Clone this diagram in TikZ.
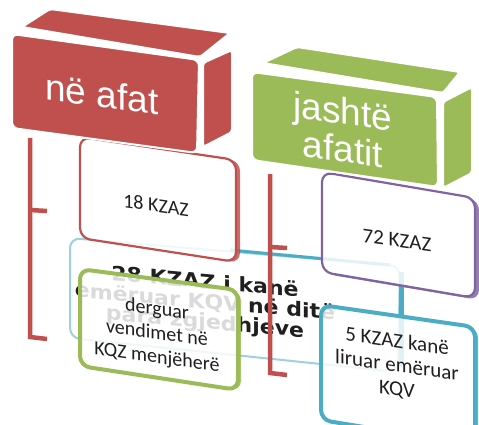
\documentclass[tikz,border=0pt]{standalone}
\usepackage{fontspec}
\setmainfont{Carlito}
\newfontfamily\hdrfont{Liberation Sans}
\newfontfamily\boldfont{DejaVu Sans}
\definecolor{cred}{HTML}{C0504D}
\definecolor{cgreen}{HTML}{9BBB59}
\definecolor{cpurple}{HTML}{8064A2}
\definecolor{ccyan}{HTML}{4BACC6}
\definecolor{ctext}{HTML}{1F1F1F}
\begin{document}
\begin{tikzpicture}[x=1pt,y=-1pt,
  face/.style={draw=white, line width=2pt, line join=round},
  hdrtext/.style={text=white, font=\hdrfont\fontsize{37}{38}\selectfont, align=center, yslant=-0.135, inner sep=0pt},
  boxtext/.style={text=ctext, font=\fontsize{20}{24}\selectfont, align=center, yslant=-0.14, inner sep=0pt},
  bigtext/.style={text=ctext, font=\boldfont\bfseries\fontsize{20}{20}\selectfont, align=center, yslant=-0.09, xscale=1.1, inner sep=0pt},
  bracket/.style={draw=cred, line width=4.5pt},
  glass/.style={transparency group, opacity=0.84},
  slabR/.style={rounded corners=10pt, line join=round},
]
\clip (0,0) rectangle (479,425);

% big faded box
\path[fill=white, draw=ccyan!55, line width=2pt, slabR] (70,238) -- (400,266) -- (398,372) -- (70,338) -- cycle;
\draw[ccyan, line width=3pt] (230,250) -- (390,265);
\draw[ccyan, line width=5pt] (401,272) -- (401,366);
\node[bigtext] (t28) at (205,303) {28 KZAZ i kanë\\emëruar KQV në ditë\\para zgjedhjeve};

% right bracket (over big box)
\draw[bracket] (270,174) -- (270,373) -- (287,375);
\draw[bracket] (270,247) -- (287,248);
% left bracket
\draw[bracket] (30,138) -- (30,337) -- (47,339);
\draw[bracket] (30,210) -- (47,211);

% 18 KZAZ box
\begin{scope}[glass]
\fill[cred, slabR, shift={(4,1)}] (80,137) -- (236,160) -- (236,262) -- (80,238) -- cycle;
\fill[white, slabR] (80,137) -- (236,160) -- (236,262) -- (80,238) -- cycle;
\end{scope}
\draw[cred, line width=2.2pt, slabR] (80,137) -- (236,160) -- (236,262) -- (80,238) -- cycle;
\node[boxtext] (t18) at (156,205) {18 KZAZ};

% 72 KZAZ box
\begin{scope}[glass]
\fill[cpurple, slabR, shift={(4,2)}] (322,172) -- (475,198) -- (475,298) -- (322,272) -- cycle;
\fill[white, slabR] (322,172) -- (475,198) -- (475,298) -- (322,272) -- cycle;
\end{scope}
\draw[cpurple, line width=2.2pt, slabR] (322,172) -- (475,198) -- (475,298) -- (322,272) -- cycle;
\node[boxtext, font=\fontsize{21}{24}\selectfont] (t72) at (397,240) {72 KZAZ};

% red header block
\path[fill=cred, face, rounded corners=3pt] (22,27) -- (50,9) -- (230,33) -- (200,57) -- cycle;
\path[fill=cred, face, rounded corners=3pt] (203,63) -- (232,50) -- (232,132) -- (203,147) -- cycle;
\path[fill=cred, face, rounded corners=6pt] (12,34) -- (199,60) -- (197,153) -- (12,128) -- cycle;
\node[hdrtext] (h1) at (102,94) {në afat};

% green header block
\path[fill=cgreen, face, rounded corners=3pt] (263,63) -- (297,47) -- (460,72) -- (443,93) -- cycle;
\path[fill=cgreen, face, rounded corners=3pt] (443,102) -- (472,87) -- (472,173) -- (443,188) -- cycle;
\path[fill=cgreen, face, rounded corners=6pt] (252,72) -- (437,97) -- (438,187) -- (252,160) -- cycle;
\node[hdrtext] (h2) at (343,130) {jashtë\\afatit};

% green box
\begin{scope}[glass]
\fill[cgreen, slabR, shift={(3,1)}] (80,269) -- (238,290) -- (238,390) -- (80,366) -- cycle;
\fill[white, slabR] (80,269) -- (238,290) -- (238,390) -- (80,366) -- cycle;
\end{scope}
\draw[cgreen, line width=4pt, slabR] (80,269) -- (238,290) -- (238,390) -- (80,366) -- cycle;
\node[boxtext] (tg) at (157,334) {derguar\\vendimet në\\KQZ menjëherë};

% 5 KZAZ box
\begin{scope}[glass]
\fill[ccyan, slabR, shift={(3,1)}] (321,305) -- (475,327) -- (475,445) -- (321,420) -- cycle;
\fill[white, slabR] (321,305) -- (475,327) -- (475,445) -- (321,420) -- cycle;
\end{scope}
\draw[ccyan, line width=4pt, slabR] (321,305) -- (475,327) -- (475,445) -- (321,420) -- cycle;
\node[boxtext, font=\fontsize{21}{24}\selectfont] (t5) at (397,366) {5 KZAZ kanë\\liruar emëruar\\KQV};
\end{tikzpicture}
\end{document}
